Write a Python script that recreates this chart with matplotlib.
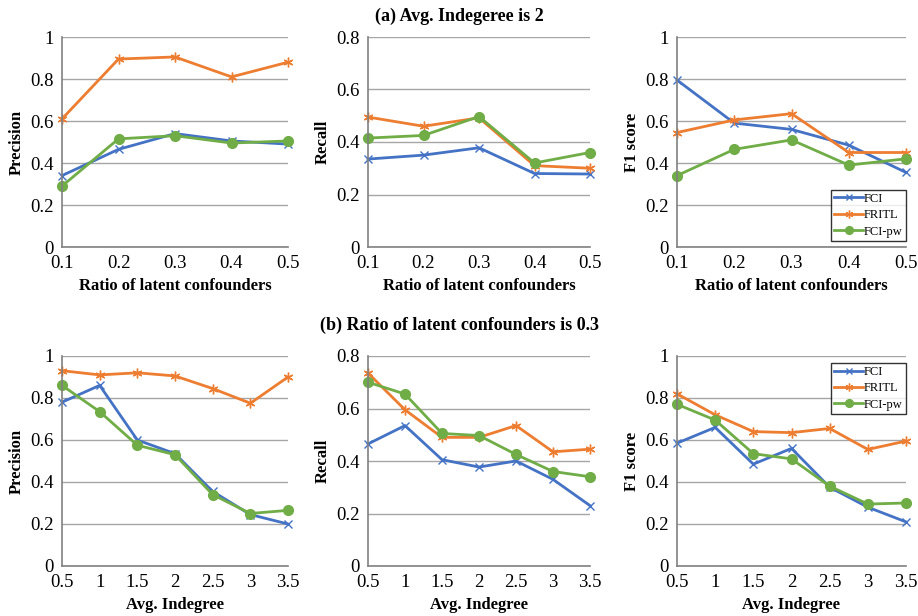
import numpy as np
import matplotlib
matplotlib.use("Agg")
import matplotlib.pyplot as plt

plt.rcParams['font.family'] = ['Liberation Serif', 'DejaVu Serif']

# data
ratios = [0.1, 0.2, 0.3, 0.4, 0.5]
ratio_labels = ['0.1', '0.2', '0.3', '0.4', '0.5']
indegrees = [0.5, 1, 1.5, 2, 2.5, 3, 3.5]
indegree_labels = ['0.5', '1', '1.5', '2', '2.5', '3', '3.5']

# (a) Avg. Indegree is 2
prec_a_fci = [0.34, 0.465, 0.54, 0.505, 0.49]
prec_a_fritl = [0.61, 0.895, 0.905, 0.81, 0.88]
prec_a_pw = [0.29, 0.515, 0.53, 0.495, 0.505]

rec_a_fci = [0.335, 0.35, 0.378, 0.28, 0.278]
rec_a_fritl = [0.495, 0.46, 0.492, 0.31, 0.30]
rec_a_pw = [0.415, 0.425, 0.497, 0.32, 0.36]

f1_a_fci = [0.795, 0.59, 0.56, 0.485, 0.355]
f1_a_fritl = [0.545, 0.605, 0.635, 0.45, 0.45]
f1_a_pw = [0.34, 0.465, 0.51, 0.39, 0.42]

# (b) Ratio of latent confounders is 0.3
prec_b_fci = [0.78, 0.86, 0.60, 0.535, 0.355, 0.245, 0.20]
prec_b_fritl = [0.93, 0.91, 0.92, 0.905, 0.845, 0.775, 0.90]
prec_b_pw = [0.86, 0.735, 0.575, 0.53, 0.34, 0.25, 0.265]

rec_b_fci = [0.465, 0.535, 0.405, 0.377, 0.40, 0.33, 0.23]
rec_b_fritl = [0.735, 0.595, 0.49, 0.49, 0.535, 0.435, 0.445]
rec_b_pw = [0.70, 0.655, 0.505, 0.497, 0.425, 0.36, 0.34]

f1_b_fci = [0.585, 0.66, 0.485, 0.56, 0.375, 0.28, 0.21]
f1_b_fritl = [0.82, 0.72, 0.64, 0.635, 0.655, 0.555, 0.595]
f1_b_pw = [0.77, 0.695, 0.535, 0.51, 0.38, 0.295, 0.30]

blue = '#4472C4'
orange = '#ED7D31'
green = '#70AD47'


def panel(ax, x, xlabels, fci, fritl, pw, ylabel, xlabel, ymax, legend_loc=None):
    ax.plot(x, fci, color=blue, lw=2, marker='x', ms=6, mew=1, label='FCI')
    ax.plot(x, fritl, color=orange, lw=2, marker=(6, 2, 0), ms=7, mew=1, label='FRITL')
    ax.plot(x, pw, color=green, lw=2, marker='o', ms=7, label='FCI-pw')
    ax.set_xlim(x[0], x[-1])
    ax.set_ylim(0, ymax)
    ax.set_xticks(x)
    ax.set_xticklabels(xlabels)
    yt = np.arange(0, ymax + 0.001, 0.2)
    ax.set_yticks(yt)
    ax.set_yticklabels(['0' if v == 0 else ('1' if abs(v - 1) < 1e-9 else '%.1f' % v) for v in yt])
    ax.grid(axis='y', color='#A6A6A6', lw=1)
    ax.set_axisbelow(True)
    for s in ['top', 'right']:
        ax.spines[s].set_visible(False)
    for s in ['left', 'bottom']:
        ax.spines[s].set_color('#808080')
        ax.spines[s].set_linewidth(1.2)
    ax.tick_params(length=0, labelsize=13.5, pad=6)
    ax.set_ylabel(ylabel, fontsize=12, fontweight='bold')
    ax.set_xlabel(xlabel, fontsize=12, fontweight='bold', labelpad=4)
    if legend_loc == 'lower right':
        anchor = (1.0, 0.03)
    elif legend_loc == 'upper right':
        anchor = (1.0, 0.967)
    if legend_loc is not None:
        leg = ax.legend(loc=legend_loc, bbox_to_anchor=anchor, fontsize=9, frameon=True,
                        fancybox=False, edgecolor='black', handlelength=2.3,
                        borderpad=0.25, labelspacing=0.35, handletextpad=0.1,
                        borderaxespad=0.0, markerscale=0.8)
        leg.get_frame().set_linewidth(1)


fig = plt.figure(figsize=(9.18, 6.16), dpi=100)

lefts = [62 / 918, 368 / 918, 677 / 918]
rights = [288 / 918, 590 / 918, 906 / 918]
top_row = (1 - 247 / 616, (247 - 37) / 616)
bot_row = (1 - 566 / 616, (566 - 356) / 616)

axes_a = [fig.add_axes([l, top_row[0], r - l, top_row[1]]) for l, r in zip(lefts, rights)]
axes_b = [fig.add_axes([l, bot_row[0], r - l, bot_row[1]]) for l, r in zip(lefts, rights)]

xl_a = 'Ratio of latent confounders'
xl_b = 'Avg. Indegree'

panel(axes_a[0], ratios, ratio_labels, prec_a_fci, prec_a_fritl, prec_a_pw, 'Precision', xl_a, 1.0)
panel(axes_a[1], ratios, ratio_labels, rec_a_fci, rec_a_fritl, rec_a_pw, 'Recall', xl_a, 0.8)
panel(axes_a[2], ratios, ratio_labels, f1_a_fci, f1_a_fritl, f1_a_pw, 'F1 score', xl_a, 1.0,
      legend_loc='lower right')

panel(axes_b[0], indegrees, indegree_labels, prec_b_fci, prec_b_fritl, prec_b_pw, 'Precision', xl_b, 1.0)
panel(axes_b[1], indegrees, indegree_labels, rec_b_fci, rec_b_fritl, rec_b_pw, 'Recall', xl_b, 0.8)
panel(axes_b[2], indegrees, indegree_labels, f1_b_fci, f1_b_fritl, f1_b_pw, 'F1 score', xl_b, 1.0,
      legend_loc='upper right')

for ax in axes_a + axes_b:
    for line in ax.get_lines():
        line.set_clip_on(False)

fig.text(459 / 918, 1 - 16 / 616, '(a) Avg. Indegeree is 2', ha='center', va='center',
         fontsize=13, fontweight='bold')
fig.text(459 / 918, 1 - 325 / 616, '(b) Ratio of latent confounders is 0.3', ha='center',
         va='center', fontsize=13, fontweight='bold')

fig.savefig('out.png', dpi=100)
